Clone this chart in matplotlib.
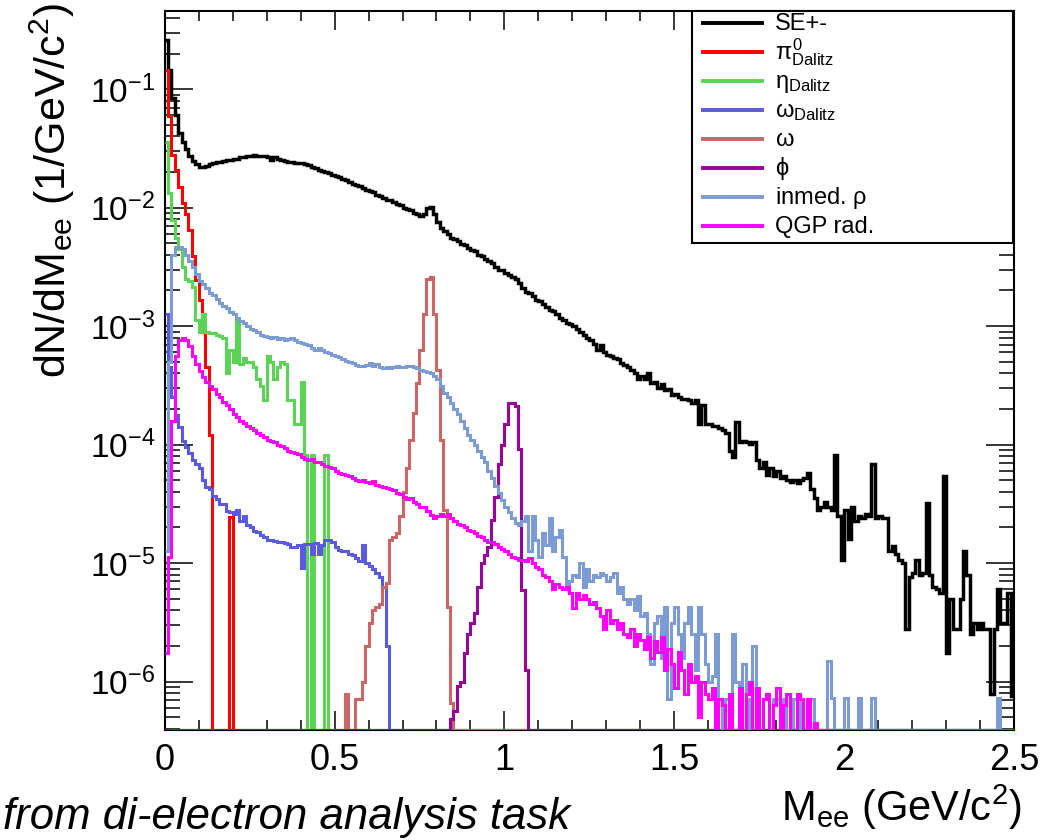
import numpy as np
import matplotlib
matplotlib.use("Agg")
import matplotlib.pyplot as plt
from matplotlib.lines import Line2D
from matplotlib.patches import Rectangle
from matplotlib.ticker import MultipleLocator, LogLocator, NullFormatter

plt.rcParams['font.family'] = ['Liberation Sans', 'DejaVu Sans']
plt.rcParams['mathtext.fontset'] = 'custom'
plt.rcParams['mathtext.rm'] = 'Liberation Sans'
plt.rcParams['mathtext.it'] = 'Liberation Sans'
plt.rcParams['mathtext.bf'] = 'Liberation Sans:bold'

# ---------------- data (dN/dM per 10 MeV bin, 0 - 2.5 GeV/c^2) ----------------
mass_min, mass_max, n_bins = 0.0, 2.5, 250

se_pm = [
    2.6e-1, 1.45e-1, 8.5e-2, 6.0e-2, 4.3e-2, 3.55e-2, 3.1e-2, 2.75e-2, 2.5e-2, 2.35e-2,
    2.2e-2, 2.2e-2, 2.25e-2, 2.35e-2, 2.4e-2, 2.45e-2, 2.45e-2, 2.5e-2, 2.55e-2, 2.55e-2,
    2.6e-2, 2.6e-2, 2.7e-2, 2.7e-2, 2.75e-2, 2.75e-2, 2.8e-2, 2.75e-2, 2.75e-2, 2.75e-2,
    2.7e-2, 2.55e-2, 2.7e-2, 2.6e-2, 2.55e-2, 2.5e-2, 2.45e-2, 2.45e-2, 2.4e-2, 2.4e-2,
    2.37e-2, 2.35e-2, 2.3e-2, 2.2e-2, 2.15e-2, 2.1e-2, 2.05e-2, 2.0e-2, 1.95e-2, 1.9e-2,
    1.86e-2, 1.82e-2, 1.76e-2, 1.7e-2, 1.66e-2, 1.58e-2, 1.55e-2, 1.51e-2, 1.48e-2, 1.41e-2,
    1.38e-2, 1.35e-2, 1.29e-2, 1.26e-2, 1.2e-2, 1.17e-2, 1.15e-2, 1.12e-2, 1.07e-2, 1.05e-2,
    1.0e-2, 9.8e-3, 9.5e-3, 9.1e-3, 8.9e-3, 8.5e-3, 8.9e-3, 1.0e-2, 1.02e-2, 8.9e-3,
    7.6e-3, 6.8e-3, 6.3e-3, 6.0e-3, 5.6e-3, 5.4e-3, 5.25e-3, 4.9e-3, 4.8e-3, 4.6e-3,
    4.4e-3, 4.3e-3, 4.0e-3, 3.9e-3, 3.7e-3, 3.55e-3, 3.4e-3, 3.15e-3, 3.0e-3, 2.95e-3,
    2.8e-3, 2.7e-3, 2.6e-3, 2.5e-3, 2.3e-3, 2.1e-3, 1.95e-3, 1.9e-3, 1.78e-3, 1.66e-3,
    1.62e-3, 1.55e-3, 1.45e-3, 1.38e-3, 1.35e-3, 1.26e-3, 1.17e-3, 1.12e-3, 1.07e-3, 1.05e-3,
    1.0e-3, 9.5e-4, 8.9e-4, 8.5e-4, 7.9e-4, 7.6e-4, 7.1e-4, 6.3e-4, 6.9e-4, 6.0e-4,
    5.75e-4, 5.6e-4, 5.4e-4, 5.25e-4, 4.9e-4, 4.7e-4, 4.5e-4, 4.3e-4, 4.0e-4, 3.6e-4,
    3.8e-4, 3.55e-4, 4.0e-4, 3.3e-4, 3.4e-4, 3.0e-4, 3.25e-4, 2.9e-4, 2.95e-4, 2.6e-4,
    2.7e-4, 2.5e-4, 2.45e-4, 2.45e-4, 2.4e-4, 2.25e-4, 2.4e-4, 1.48e-4, 2.15e-4, 1.48e-4,
    1.5e-4, 1.45e-4, 1.45e-4, 1.38e-4, 1.32e-4, 1.26e-4, 8.9e-5, 7.9e-5, 1.55e-4, 1.05e-4,
    1.07e-4, 1.05e-4, 1.02e-4, 1.05e-4, 7.4e-5, 6.3e-5, 7.1e-5, 5.5e-5, 6.3e-5, 5.4e-5,
    6.0e-5, 5.25e-5, 5.4e-5, 5.0e-5, 4.8e-5, 5.0e-5, 4.7e-5, 5.0e-5, 5.25e-5, 5.75e-5,
    4.2e-5, 3.55e-5, 2.8e-5, 3.0e-5, 3.3e-5, 2.95e-5, 2.8e-5, 8.1e-5, 2.5e-5, 1.07e-5,
    2.8e-5, 1.6e-5, 3.0e-5, 2.25e-5, 2.5e-5, 2.4e-5, 2.6e-5, 2.5e-5, 6.8e-5, 2.4e-5,
    2.5e-5, 2.4e-5, 2.4e-5, 1.26e-5, 1.4e-5, 1.2e-5, 1.07e-5, 1.0e-5, 2.8e-6, 7.6e-6,
    8.3e-6, 1.07e-5, 7.9e-6, 8.3e-6, 3.2e-5, 7.9e-6, 6.3e-6, 6.0e-6, 5.6e-6, 5.4e-5,
    1.74e-6, 5.0e-6, 2.8e-6, 2.8e-6, 5.0e-6, 1.26e-5, 7.9e-6, 2.5e-6, 3.15e-6, 2.8e-6,
    3.15e-6, 2.8e-6, 2.8e-6, 7.9e-7, 2.8e-6, 6.0e-6, 3.15e-6, 3.15e-6, 5.6e-6, 7.6e-7,
]

pi0_dalitz = [
    1.45e-1, 5.9e-2, 2.8e-2, 2.1e-2, 1.5e-2, 1.1e-2, 8.9e-3, 6.5e-3, 3.9e-3, 2.45e-3,
    1.66e-3, 8.9e-4, 4.5e-4, 1.2e-4, 0, 0, 0, 0, 0, 2.45e-5,
]

eta_dalitz = [
    3.6e-2, 1.32e-2, 7.9e-3, 5.6e-3, 4.5e-3, 3.15e-3, 2.5e-3, 2.4e-3, 2.15e-3, 1.12e-3,
    8.9e-4, 1.26e-3, 8.9e-4, 8.7e-4, 8.7e-4, 8.5e-4, 8.3e-4, 7.9e-4, 4.0e-4, 6.3e-4,
    5.0e-4, 1.12e-3, 4.8e-4, 5.4e-4, 5.0e-4, 5.0e-4, 4.5e-4, 3.55e-4, 3.15e-4, 2.4e-4,
    5.6e-4, 5.0e-4, 3.55e-4, 4.5e-4, 5.0e-4, 4.8e-4, 2.4e-4, 2.4e-4, 1.5e-4, 1.5e-4,
    3.4e-4, 8.1e-5, 0, 8.1e-5, 0, 0, 0, 8.1e-5,
]

omega_dalitz = [
    1.26e-3, 4.5e-4, 2.5e-4, 1.78e-4, 1.41e-4, 1.07e-4, 9.5e-5, 8.5e-5, 7.4e-5, 6.8e-5,
    6.3e-5, 5.0e-5, 4.4e-5, 4.2e-5, 3.7e-5, 3.45e-5, 3.15e-5, 3.15e-5, 2.75e-5, 2.7e-5,
    2.6e-5, 2.8e-5, 2.25e-5, 2.5e-5, 2.1e-5, 2.0e-5, 1.86e-5, 1.82e-5, 1.74e-5, 1.66e-5,
    1.58e-5, 1.58e-5, 1.55e-5, 1.51e-5, 1.51e-5, 1.48e-5, 1.45e-5, 1.38e-5, 1.38e-5, 1.41e-5,
    9.1e-6, 1.45e-5, 1.45e-5, 1.2e-5, 1.48e-5, 1.2e-5, 1.41e-5, 1.58e-5, 1.58e-5, 1.51e-5,
    1.38e-5, 1.29e-5, 1.26e-5, 1.26e-5, 1.2e-5, 1.17e-5, 1.1e-5, 1.05e-5, 1.41e-5, 1.0e-5,
    9.5e-6, 8.9e-6, 8.3e-6, 7.6e-6, 6.3e-6, 2.0e-6,
]

omega_first_bin = 53
omega_direct = [
    7.9e-7, 0, 0, 7.1e-7, 7.1e-7, 1.0e-6, 2.0e-6, 3.15e-6, 4.0e-6, 4.3e-6,
    4.5e-6, 6.3e-6, 6.8e-6, 1.58e-5, 1.66e-5, 1.78e-5, 2.5e-5, 4.0e-5, 6.3e-5, 1.1e-4,
    1.86e-4, 3.3e-4, 6.3e-4, 1.26e-3, 2.5e-3, 2.6e-3, 1.26e-3, 4.3e-4, 1.1e-4, 2.8e-5,
    4.3e-6, 6.6e-7,
]

phi_first_bin = 84
phi_direct = [
    4.8e-7, 5.6e-7, 9.1e-7, 1.0e-6, 1.74e-6, 2.5e-6, 3.15e-6, 3.8e-6, 6.3e-6, 1.0e-5,
    1.17e-5, 1.38e-5, 2.3e-5, 3.6e-5, 6.9e-5, 1.0e-4, 1.5e-4, 2.25e-4, 2.25e-4, 2.1e-4,
    9.1e-5, 5.9e-6, 1.26e-6,
]

inmed_rho = [
    1.26e-5, 5.0e-4, 3.98e-3, 4.7e-3, 4.7e-3, 4.5e-3, 4.0e-3, 3.55e-3, 3.15e-3, 2.75e-3,
    2.4e-3, 2.25e-3, 2.1e-3, 1.9e-3, 1.82e-3, 1.7e-3, 1.58e-3, 1.48e-3, 1.41e-3, 1.32e-3,
    1.26e-3, 1.17e-3, 1.1e-3, 1.07e-3, 1.0e-3, 9.5e-4, 9.3e-4, 8.9e-4, 8.5e-4, 8.3e-4,
    8.1e-4, 7.9e-4, 8.1e-4, 7.8e-4, 7.9e-4, 7.6e-4, 7.8e-4, 7.9e-4, 7.6e-4, 7.4e-4,
    7.2e-4, 7.1e-4, 6.9e-4, 6.6e-4, 6.3e-4, 6.6e-4, 6.3e-4, 6.0e-4, 5.9e-4, 5.75e-4,
    5.6e-4, 5.5e-4, 5.25e-4, 5.1e-4, 5.0e-4, 4.9e-4, 4.7e-4, 4.6e-4, 4.6e-4, 4.7e-4,
    4.9e-4, 4.6e-4, 4.8e-4, 4.5e-4, 4.4e-4, 4.5e-4, 4.4e-4, 4.5e-4, 4.6e-4, 4.5e-4,
    4.5e-4, 4.6e-4, 4.6e-4, 4.5e-4, 4.4e-4, 4.3e-4, 4.2e-4, 4.1e-4, 4.0e-4, 3.8e-4,
    3.55e-4, 3.15e-4, 2.75e-4, 2.5e-4, 2.25e-4, 2.0e-4, 1.82e-4, 1.58e-4, 1.38e-4, 1.2e-4,
    1.1e-4, 1.0e-4, 8.9e-5, 7.9e-5, 7.1e-5, 6.0e-5, 5.25e-5, 4.5e-5, 3.9e-5, 3.4e-5,
    3.0e-5, 2.7e-5, 2.4e-5, 2.2e-5, 2.1e-5, 2.25e-5, 2.5e-5, 1.26e-5, 2.5e-5, 1.58e-5,
    1.12e-5, 1.78e-5, 1.41e-5, 2.4e-5, 1.26e-5, 1.66e-5, 1.9e-5, 1.12e-5, 6.3e-6, 7.1e-6,
    7.9e-6, 7.6e-6, 1.0e-5, 6.3e-6, 8.9e-6, 7.1e-6, 7.9e-6, 7.6e-6, 8.3e-6, 7.9e-6,
    7.1e-6, 7.6e-6, 8.3e-6, 5.6e-6, 6.3e-6, 5.0e-6, 4.5e-6, 5.0e-6, 4.0e-6, 5.25e-6,
    3.55e-6, 3.8e-6, 2.5e-6, 1.41e-6, 3.15e-6, 3.55e-6, 1.58e-6, 4.3e-6, 7.1e-7, 3.15e-6,
    4.3e-6, 2.5e-6, 1.58e-6, 3.15e-6, 4.3e-6, 2.5e-6, 1.26e-6, 4.3e-6, 2.5e-6, 1.41e-6,
    1.0e-6, 1.12e-6, 2.5e-6, 7.1e-7, 0, 7.1e-7, 0, 2.5e-6, 1.0e-6, 7.1e-7,
    1.41e-6, 0, 7.1e-7, 2.0e-6, 0, 0, 7.1e-7, 7.1e-7, 0, 7.1e-7,
    7.1e-7, 0, 7.1e-7, 0, 0, 7.1e-7, 7.1e-7, 0, 0, 0,
    7.1e-7, 0, 0, 0, 0, 1.48e-6, 7.2e-7, 0, 0, 0,
    7.2e-7, 0, 0, 0, 7.2e-7, 0, 0, 0, 7.2e-7, 0,
    0, 0, 0, 0, 0, 0, 0, 0, 0, 0,
    0, 0, 0, 0, 0, 0, 0, 0, 0, 0,
    0, 0, 0, 0, 0, 0, 0, 0, 0, 0,
    0, 0, 0, 0, 0, 7.2e-7, 0, 0, 0, 0,
]

qgp_rad = [
    1.74e-6, 1.12e-5, 1.58e-4, 5.6e-4, 7.6e-4, 7.9e-4, 7.6e-4, 6.8e-4, 5.6e-4, 4.8e-4,
    4.2e-4, 3.7e-4, 3.4e-4, 3.15e-4, 2.95e-4, 2.7e-4, 2.5e-4, 2.3e-4, 2.15e-4, 2.0e-4,
    1.82e-4, 1.7e-4, 1.58e-4, 1.51e-4, 1.45e-4, 1.38e-4, 1.32e-4, 1.26e-4, 1.2e-4, 1.15e-4,
    1.1e-4, 1.07e-4, 1.05e-4, 1.0e-4, 9.8e-5, 9.3e-5, 8.9e-5, 8.7e-5, 8.5e-5, 8.3e-5,
    7.9e-5, 7.6e-5, 7.4e-5, 7.6e-5, 7.2e-5, 7.1e-5, 6.8e-5, 6.6e-5, 6.5e-5, 6.3e-5,
    6.0e-5, 5.75e-5, 5.6e-5, 5.5e-5, 5.4e-5, 5.25e-5, 5.0e-5, 4.9e-5, 5.0e-5, 4.8e-5,
    4.7e-5, 4.9e-5, 4.6e-5, 4.5e-5, 4.4e-5, 4.3e-5, 4.2e-5, 4.1e-5, 3.9e-5, 3.8e-5,
    3.6e-5, 3.45e-5, 3.55e-5, 3.3e-5, 3.15e-5, 3.0e-5, 2.95e-5, 2.75e-5, 2.55e-5, 2.4e-5,
    2.5e-5, 2.6e-5, 2.5e-5, 2.6e-5, 2.4e-5, 2.25e-5, 2.15e-5, 2.1e-5, 2.0e-5, 1.9e-5,
    1.86e-5, 1.78e-5, 1.7e-5, 1.66e-5, 1.58e-5, 1.51e-5, 1.51e-5, 1.45e-5, 1.38e-5, 1.32e-5,
    1.26e-5, 1.2e-5, 1.12e-5, 1.1e-5, 1.07e-5, 1.07e-5, 1.05e-5, 1.1e-5, 1.0e-5, 9.3e-6,
    8.9e-6, 7.9e-6, 7.6e-6, 7.1e-6, 6.0e-6, 6.6e-6, 6.3e-6, 6.0e-6, 6.3e-6, 5.6e-6,
    4.2e-6, 5.6e-6, 5.0e-6, 5.4e-6, 5.0e-6, 4.5e-6, 4.7e-6, 4.2e-6, 3.55e-6, 2.8e-6,
    4.0e-6, 3.15e-6, 3.3e-6, 2.8e-6, 3.15e-6, 2.5e-6, 2.4e-6, 2.8e-6, 2.0e-6, 2.5e-6,
    2.25e-6, 1.9e-6, 2.4e-6, 1.58e-6, 2.2e-6, 1.78e-6, 2.4e-6, 1.26e-6, 1.9e-6, 1.41e-6,
    8.9e-7, 1.78e-6, 1.26e-6, 7.9e-7, 1.41e-6, 1.0e-6, 1.12e-6, 5.0e-7, 1.0e-6, 7.9e-7,
    7.1e-7, 8.9e-7, 0, 7.1e-7, 6.3e-7, 0, 7.9e-7, 0, 0, 8.9e-7,
    0, 7.9e-7, 1.0e-6, 0, 8.9e-7, 0, 7.1e-7, 7.9e-7, 0, 6.3e-7,
    8.9e-7, 0, 6.3e-7, 7.9e-7, 0, 0, 7.9e-7, 7.1e-7, 0, 7.1e-7,
    0, 4.5e-7,
]

legend_labels = ['SE+-', r'$\pi^{0}_{\mathrm{Dalitz}}$', r'$\eta_{\mathrm{Dalitz}}$',
                 r'$\omega_{\mathrm{Dalitz}}$', r'$\omega$', r'$\phi$',
                 r'inmed. $\rho$', 'QGP rad.']
series_colors = ['#000000', '#ff0000', '#59d454', '#5a5adc', '#cc6666',
                 '#990099', '#7b9bd2', '#ff00ff']
series_widths = [2.5, 2.2, 2.2, 2.2, 2.2, 2.2, 2.2, 2.2]
x_tick_values = [0, 0.5, 1, 1.5, 2, 2.5]
x_tick_labels = ['0', '0.5', '1', '1.5', '2', '2.5']
y_tick_values = [1e-6, 1e-5, 1e-4, 1e-3, 1e-2, 1e-1]
y_tick_labels = [r'$10^{-6}$', r'$10^{-5}$', r'$10^{-4}$', r'$10^{-3}$',
                 r'$10^{-2}$', r'$10^{-1}$']
y_min, y_max = 3.9e-7, 0.46


def full_hist(values, first_bin=0):
    arr = np.zeros(n_bins)
    arr[first_bin:first_bin + len(values)] = values
    return arr


series = [full_hist(se_pm), full_hist(pi0_dalitz), full_hist(eta_dalitz),
          full_hist(omega_dalitz), full_hist(omega_direct, omega_first_bin),
          full_hist(phi_direct, phi_first_bin), full_hist(inmed_rho),
          full_hist(qgp_rad)]
edges = np.linspace(mass_min, mass_max, n_bins + 1)

# ---------------- figure ----------------
W, H = 1045, 840
fig = plt.figure(figsize=(W / 100, H / 100), dpi=100)
ax_l, ax_r, ax_t, ax_b = 164.7, 1014.0, 10.7, 730.0
ax = fig.add_axes([ax_l / W, 1 - ax_b / H, (ax_r - ax_l) / W, (ax_b - ax_t) / H])
ax.set_yscale('log')
ax.set_xlim(mass_min, mass_max)
ax.set_ylim(y_min, y_max)

for vals, col, lw in zip(series, series_colors, series_widths):
    # empty bins are drawn on the lower frame, as ROOT does
    ax.stairs(np.maximum(vals, y_min), edges, baseline=None, color=col,
              linewidth=lw, zorder=3)

for sp in ax.spines.values():
    sp.set_linewidth(1.5)
    sp.set_zorder(2.5)

ax.set_xticks(x_tick_values)
ax.set_xticklabels(x_tick_labels)
ax.xaxis.set_minor_locator(MultipleLocator(0.1))
ax.set_yticks(y_tick_values)
ax.set_yticklabels(y_tick_labels)
ax.yaxis.set_minor_locator(LogLocator(base=10, subs=np.arange(2, 10), numticks=20))
ax.yaxis.set_minor_formatter(NullFormatter())
ax.tick_params(which='both', direction='in', top=True, right=True, width=1.1)
ax.tick_params(axis='x', which='major', length=14, labelsize=26, pad=9)
ax.tick_params(axis='x', which='minor', length=7)
ax.tick_params(axis='y', which='major', length=20, labelsize=24, pad=7)
ax.tick_params(axis='y', which='minor', length=11)

fig.text(52 / W, 1 - 3 / H, r'dN/dM$_{\mathrm{ee}}$ (1/GeV/c$^{2}$)', rotation=90,
         ha='center', va='top', fontsize=31)
fig.text(1022 / W, 1 - 821 / H, r'M$_{\mathrm{ee}}$ (GeV/c$^{2}$)', ha='right',
         va='baseline', fontsize=30)
fig.text(3 / W, 1 - 829 / H, 'from di-electron analysis task', ha='left',
         va='baseline', fontsize=31.5, style='italic')

# ---------------- legend (ROOT TLegend style) ----------------
leg_l, leg_r, leg_t, leg_b = 692, 1013, 10.7, 243
fig.add_artist(Rectangle((leg_l / W, 1 - leg_b / H), (leg_r - leg_l) / W,
                         (leg_b - leg_t) / H, transform=fig.transFigure,
                         facecolor='white', edgecolor='black', linewidth=1.5,
                         zorder=5))
for i, (lab, col) in enumerate(zip(legend_labels, series_colors)):
    yc = 23 + 29.0 * i
    fig.add_artist(Line2D([703 / W, 762 / W], [1 - yc / H, 1 - yc / H],
                          transform=fig.transFigure, color=col, linewidth=2.8,
                          zorder=6))
    fig.text(775 / W, 1 - (yc + 7) / H, lab, ha='left', va='baseline',
             fontsize=17, zorder=6)

fig.savefig('out.png', dpi=100)
